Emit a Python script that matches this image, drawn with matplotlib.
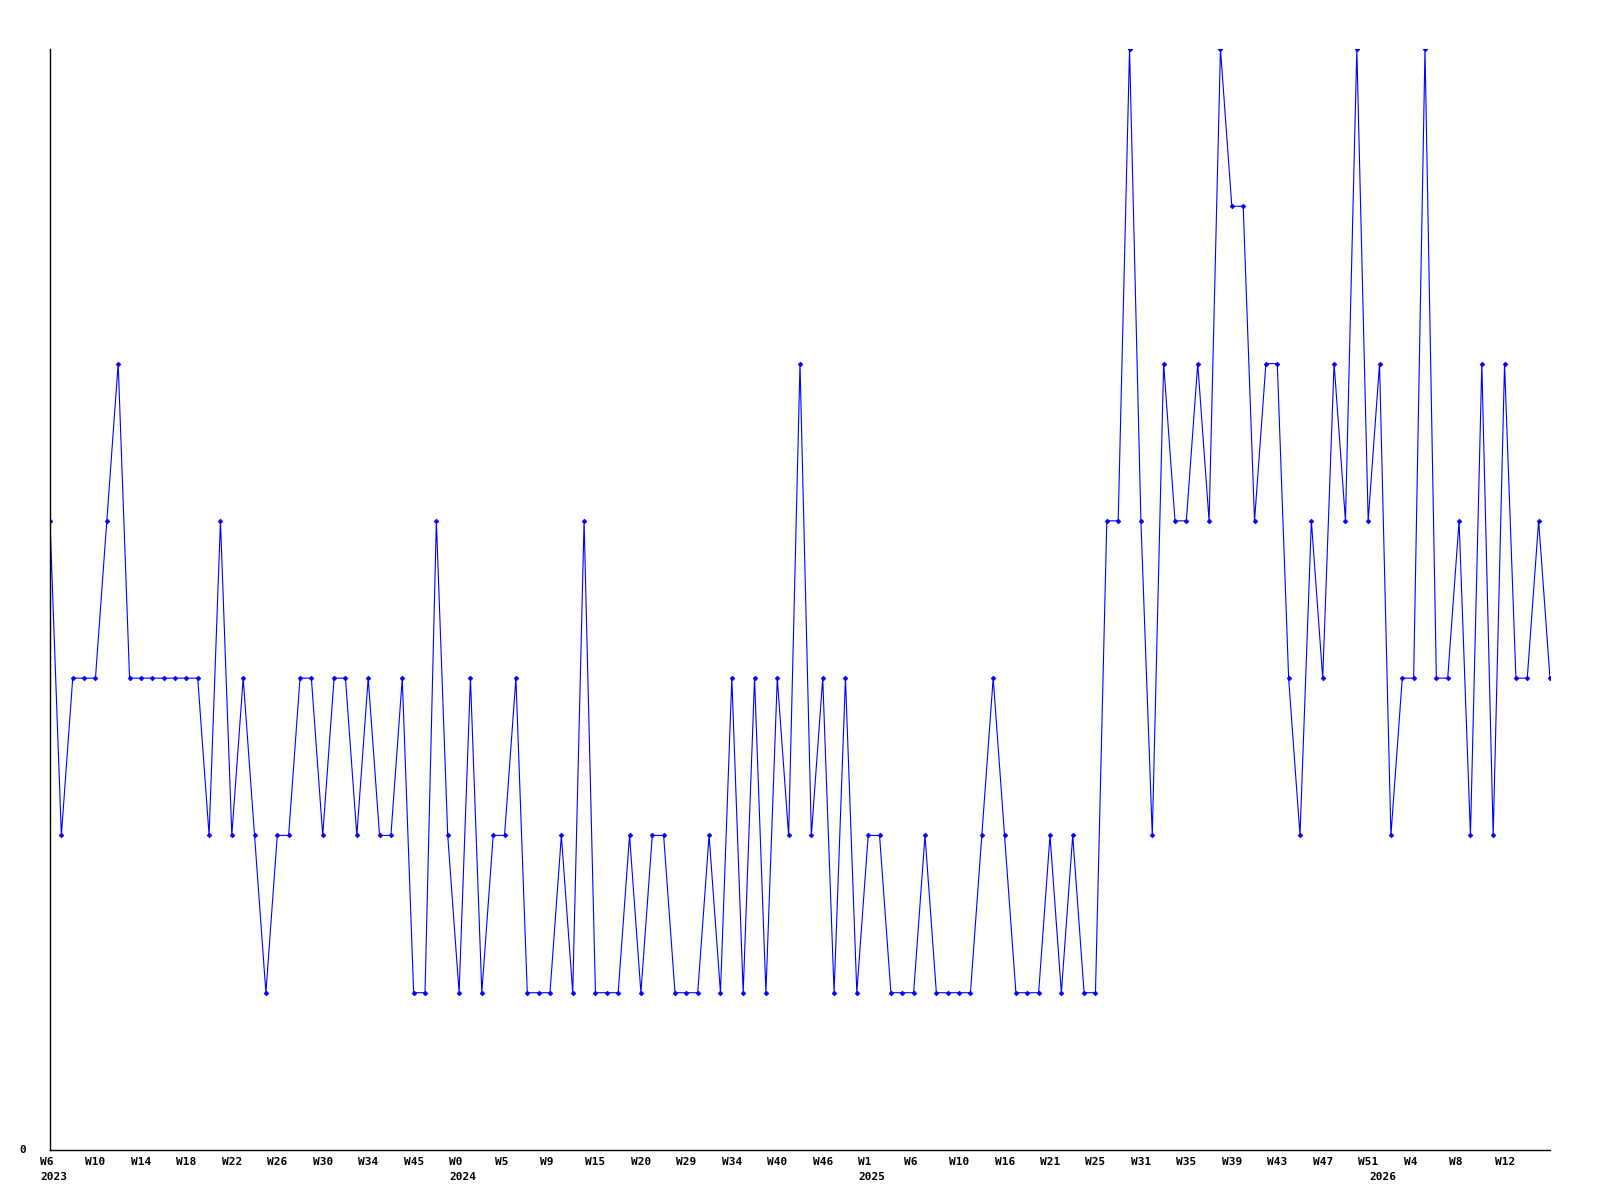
import matplotlib
matplotlib.use("Agg")
import matplotlib.pyplot as plt

values = [4, 2, 3, 3, 3, 4, 5, 3, 3, 3, 3, 3, 3, 3, 2, 4, 2, 3, 2, 1, 2, 2, 3,
          3, 2, 3, 3, 2, 3, 2, 2, 3, 1, 1, 4, 2, 1, 3, 1, 2, 2, 3, 1, 1, 1, 2,
          1, 4, 1, 1, 1, 2, 1, 2, 2, 1, 1, 1, 2, 1, 3, 1, 3, 1, 3, 2, 5, 2,
          3, 1, 3, 1, 2, 2, 1, 1, 1, 2, 1, 1, 1, 1, 2, 3, 2, 1, 1, 1, 2, 1, 2,
          1, 1, 4, 4, 7, 4, 2, 5, 4, 4, 5, 4, 7, 6, 6, 4, 5, 5, 3, 2, 4, 3, 5,
          4, 7, 4, 5, 2, 3, 3, 7, 3, 3, 4, 2, 5, 2, 5, 3, 3, 4, 3]

week_labels = ["W6", "W10", "W14", "W18", "W22", "W26", "W30", "W34", "W45", "W0",
               "W5", "W9", "W15", "W20", "W29", "W34", "W40", "W46", "W1", "W6",
               "W10", "W16", "W21", "W25", "W31", "W35", "W39", "W43", "W47", "W51",
               "W4", "W8", "W12"]
label_step = 4
year_labels = ["2023", "2024", "2025", "2026"]
year_index = [0, 36, 72, 117]

fig = plt.figure(figsize=(16, 12), dpi=100)
ax = fig.add_axes([50 / 1600, 1 - 1150 / 1200, 1500 / 1600, (1150 - 49) / 1200])

x = list(range(len(values)))
ax.plot(x, values, color="#0000ff", linewidth=0.8, marker="D", markersize=2.4,
        markerfacecolor="#0000ff", markeredgecolor="#0000ff", markeredgewidth=0.5)

ax.set_xlim(0, len(values) - 1)
ax.set_ylim(0, 7)

for s in ["top", "right"]:
    ax.spines[s].set_visible(False)
for s in ["left", "bottom"]:
    ax.spines[s].set_color("black")
    ax.spines[s].set_linewidth(1.0)

ax.set_xticks([])
ax.set_yticks([])

font = dict(family="DejaVu Sans Mono", weight="bold", size=8)

for i, lab in enumerate(week_labels):
    ax.annotate(lab, xy=(i * label_step, 0), xycoords=("data", "axes fraction"),
                xytext=(-10, -7), textcoords="offset pixels", ha="left", va="top",
                annotation_clip=False, **font)
for idx, lab in zip(year_index, year_labels):
    ax.annotate(lab, xy=(idx, 0), xycoords=("data", "axes fraction"),
                xytext=(-10, -22), textcoords="offset pixels", ha="left", va="top",
                annotation_clip=False, **font)

ax.annotate("0", xy=(0, 0), xycoords="axes fraction", xytext=(-24, 0),
            textcoords="offset pixels", ha="right", va="center",
            annotation_clip=False, **font)

fig.savefig("out.png", dpi=100, facecolor="white")
